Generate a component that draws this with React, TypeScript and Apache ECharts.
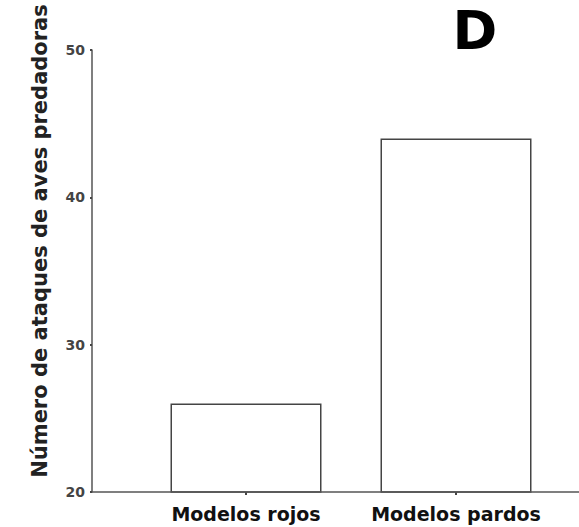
import React, { useEffect, useRef } from "react";
import * as echarts from "echarts";

const categories = ["Modelos rojos", "Modelos pardos"];
const values = [26, 44];
const yTicks = [20, 30, 40, 50];
const yTitle = "Número de ataques de aves predadoras";
const panelLabel = "D";

export default function App() {
  const ref = useRef<HTMLDivElement>(null);
  useEffect(() => {
    if (!ref.current) return;
    const chart = echarts.init(ref.current, null, { renderer: "svg" });
    const font = "'DejaVu Sans', Verdana, sans-serif";
    chart.setOption({
      animation: false,
      backgroundColor: "#ffffff",
      grid: { left: 141, right: 18, top: 50, bottom: 35 },
      xAxis: {
        type: "category",
        data: categories,
        axisLine: { show: false },
        axisTick: {
          show: true,
          alignWithLabel: true,
          length: 3,
          lineStyle: { color: "#444", width: 2 },
        },
        axisLabel: {
          interval: 0,
          margin: 12,
          color: "#111",
          fontFamily: font,
          fontWeight: "bold",
          fontSize: 19,
        },
      },
      yAxis: {
        type: "value",
        min: yTicks[0],
        max: yTicks[yTicks.length - 1],
        interval: 10,
        offset: 49,
        splitLine: { show: false },
        axisLine: { show: true, lineStyle: { color: "#555", width: 1.5 } },
        axisTick: { show: true, length: 2, lineStyle: { color: "#444", width: 2 } },
        axisLabel: {
          margin: 7,
          color: "#444",
          fontFamily: font,
          fontWeight: "bold",
          fontSize: 14,
        },
      },
      graphic: [
        {
          type: "line",
          shape: { x1: 92, y1: 492, x2: 579, y2: 492 },
          style: { stroke: "#555", lineWidth: 1.5 },
          z: 10,
        },
        {
          type: "text",
          x: 40,
          y: 241,
          rotation: Math.PI / 2,
          style: {
            text: yTitle,
            fontFamily: font,
            fontWeight: "bold",
            fontSize: 21,
            fill: "#222",
            textAlign: "center",
            textVerticalAlign: "middle",
          },
        },
        {
          type: "text",
          x: 475,
          y: 30,
          style: {
            text: panelLabel,
            fontFamily: font,
            fontWeight: 900,
            fontSize: 54,
            lineHeight: 44,
            fill: "#000",
            textAlign: "center",
            textVerticalAlign: "middle",
          },
        },
      ],
      series: [
        {
          type: "bar",
          data: values,
          barWidth: 151,
          itemStyle: { color: "#ffffff", borderColor: "#444", borderWidth: 1.5 },
        },
      ],
    });
    return () => chart.dispose();
  }, []);
  return <div ref={ref} style={{ width: 579, height: 527, position: "absolute", left: 0, top: 0 }} />;
}
